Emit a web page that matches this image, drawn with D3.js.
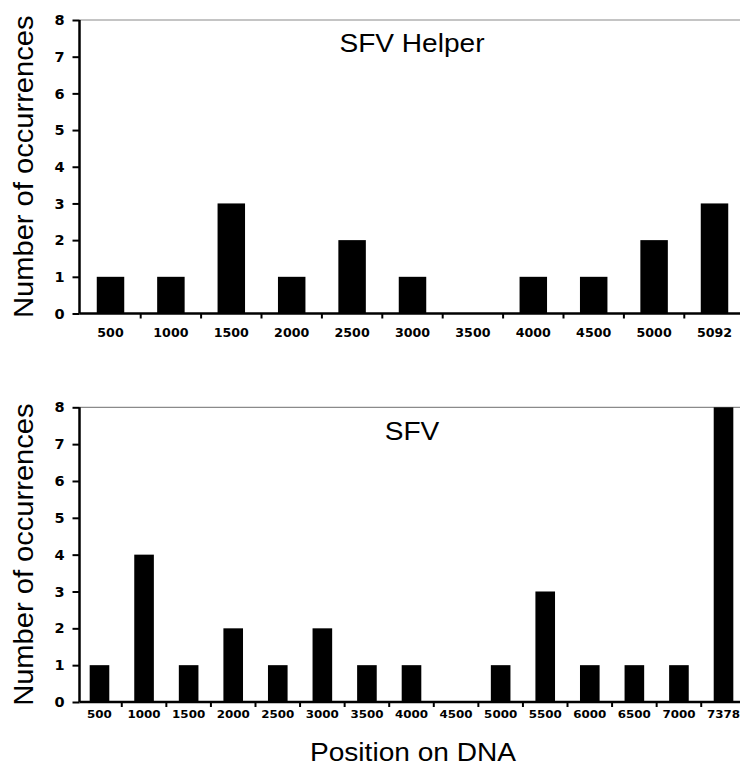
<!DOCTYPE html>
<html>
<head>
<meta charset="utf-8">
<script src="https://cdn.jsdelivr.net/npm/d3@7"></script>
<style>
  html, body { margin: 0; padding: 0; background: #fff; }
  svg { display: block; }
</style>
</head>
<body>
<svg id="chart" width="740" height="767"></svg>
<script>
// ---- Data ----
const helperCategories = ["500","1000","1500","2000","2500","3000","3500","4000","4500","5000","5092"];
const helperValues     = [1, 1, 3, 1, 2, 1, 0, 1, 1, 2, 3];

const sfvCategories = ["500","1000","1500","2000","2500","3000","3500","4000","4500","5000","5500","6000","6500","7000","7378"];
const sfvValues     = [1, 4, 1, 2, 1, 2, 1, 1, 0, 1, 3, 1, 1, 1, 8];

const yTicks = [0, 1, 2, 3, 4, 5, 6, 7, 8];

const panelTitles = ["SFV Helper", "SFV"];
const yAxisTitle = "Number of occurrences";
const xAxisTitle = "Position on DNA";

// ---- Drawing ----
const svg = d3.select("#chart");
const W = 740;
const axisX = 79.5;
const labelFont = "'Liberation Sans', Arial, Helvetica, sans-serif";
const tickFont = "'DejaVu Sans', Verdana, sans-serif";

function panel(cfg) {
  const g = svg.append("g");
  const x = d3.scaleBand()
    .domain(cfg.categories)
    .range(cfg.xRange)
    .paddingInner(cfg.pad)
    .paddingOuter(cfg.pad / 2);
  const y = d3.scaleLinear().domain([0, 8]).range([cfg.y0, cfg.y8]);
  const step = x.step();

  // top reference line
  g.append("line")
    .attr("x1", axisX).attr("x2", W)
    .attr("y1", y(8)).attr("y2", y(8))
    .attr("stroke", "#8a8a8a").attr("stroke-width", 1.2);

  // bars
  g.selectAll("rect.bar")
    .data(cfg.categories.map((c, i) => ({ c, v: cfg.values[i] })))
    .join("rect")
    .attr("class", "bar")
    .attr("x", d => x(d.c))
    .attr("width", x.bandwidth())
    .attr("y", d => y(d.v))
    .attr("height", d => y(0) - y(d.v))
    .attr("fill", "#000");

  // x axis labels (centered under bars)
  const xAxis = d3.axisBottom(x).tickSize(0).tickPadding(cfg.xLabelPad);
  const xg = g.append("g").attr("transform", `translate(0,${y(0)})`).call(xAxis);
  xg.select(".domain").remove();
  xg.selectAll("text")
    .attr("font-family", tickFont)
    .attr("font-weight", "bold")
    .attr("font-size", cfg.xFont)
    .attr("transform", `scale(${cfg.xStretch},1)`)
    .attr("fill", "#000");

  // x axis line
  g.append("line")
    .attr("x1", axisX).attr("x2", W)
    .attr("y1", y(0)).attr("y2", y(0))
    .attr("stroke", "#000").attr("stroke-width", 2.5);

  // x tick marks at band boundaries
  const boundaries = cfg.categories.slice(1).map(c => x(c) - step * cfg.pad / 2);
  g.selectAll("line.xtick")
    .data(boundaries)
    .join("line")
    .attr("class", "xtick")
    .attr("x1", d => d).attr("x2", d => d)
    .attr("y1", y(0)).attr("y2", y(0) + 5)
    .attr("stroke", "#000").attr("stroke-width", 2);

  // y axis
  const yAxis = d3.axisLeft(y).tickValues(yTicks).tickSize(7).tickPadding(8).tickFormat(d3.format("d"));
  const yg = g.append("g").attr("transform", `translate(${axisX},0)`).call(yAxis);
  yg.select(".domain").attr("stroke", "#000").attr("stroke-width", 2.5)
    .attr("d", `M0,${y(8)}V${y(0)}`);
  yg.selectAll(".tick line").attr("stroke", "#000").attr("stroke-width", 2);
  yg.selectAll("text")
    .attr("font-family", tickFont)
    .attr("font-weight", "bold")
    .attr("font-size", 14.5)
    .attr("fill", "#000");

  // y axis title
  g.append("text")
    .attr("transform", `translate(33,${(y(0) + y(8)) / 2}) rotate(-90) scale(1.04,1)`)
    .attr("text-anchor", "middle")
    .attr("font-family", labelFont)
    .attr("font-size", 28)
    .attr("fill", "#000")
    .text(yAxisTitle);

  // panel title
  g.append("text")
    .attr("transform", `translate(412,${cfg.titleY}) scale(1.06,1)`)
    .attr("text-anchor", "middle")
    .attr("font-family", labelFont)
    .attr("font-size", 26.5)
    .attr("fill", "#000")
    .text(cfg.title);

  return { x, y };
}

panel({
  categories: helperCategories, values: helperValues,
  xRange: [80.3, 744.7], pad: 0.545,
  y0: 313.5, y8: 20,
  xFont: 11.5, xStretch: 1.1, xLabelPad: 15,
  title: panelTitles[0], titleY: 51.7
});

panel({
  categories: sfvCategories, values: sfvValues,
  xRange: [77.2, 745.8], pad: 0.56,
  y0: 702, y8: 407.3,
  xFont: 11, xStretch: 1.08, xLabelPad: 8,
  title: panelTitles[1], titleY: 439.5
});

// x axis title
svg.append("text")
  .attr("transform", `translate(413,761) scale(1.06,1)`)
  .attr("text-anchor", "middle")
  .attr("font-family", labelFont)
  .attr("font-size", 26.5)
  .attr("fill", "#000")
  .text(xAxisTitle);
</script>
</body>
</html>
